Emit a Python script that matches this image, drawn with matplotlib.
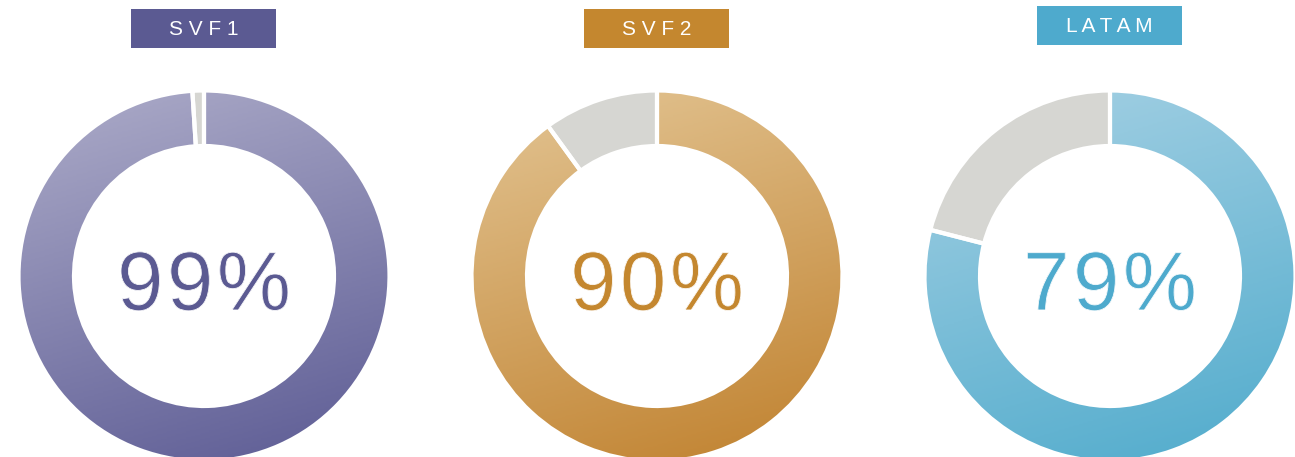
import matplotlib
matplotlib.use("Agg")
import matplotlib.pyplot as plt
import numpy as np
from matplotlib.colors import LinearSegmentedColormap
from matplotlib.patches import Rectangle
import matplotlib.patheffects as pe

# ---- data ----
names = ["SVF1", "SVF2", "LATAM"]
values = [99, 90, 79]
box_colors = ["#5b5a92", "#c4872f", "#4eaacd"]
grad_light = ["#adacc9", "#e3c594", "#a6d1e4"]
grad_dark = ["#5c5b94", "#c0812e", "#50abcc"]
rest_color = "#d6d6d2"

# ---- layout (pixels) ----
W, H = 1295, 457
centers_x = [204, 657, 1110]
center_y = H - 276
radius = 185.5
ring_w = 55.5
box_left = [131, 584, 1037]
box_top = [9, 9, 6]
box_w, box_h = 145, 39
pct_spacing = 3.5

fig = plt.figure(figsize=(W / 100, H / 100), dpi=100)
ax = fig.add_axes([0, 0, 1, 1])
ax.set_xlim(0, W)
ax.set_ylim(0, H)
renderer = fig.canvas.get_renderer()

u = np.linspace(0, 1, 256)
v = np.linspace(0, 1, 256)
grad = (0.3 * u[None, :] + v[:, None]) / 1.3


def spaced_text(cx, y, s, spacing, **kw):
    widths = []
    for k in range(len(s) + 1):
        if k == 0:
            widths.append(0.0)
            continue
        t = ax.text(0, 0, s[:k], **kw)
        widths.append(t.get_window_extent(renderer).width)
        t.remove()
    total = widths[-1] + spacing * (len(s) - 1)
    x0 = cx - total / 2
    for k, ch in enumerate(s):
        ax.text(x0 + widths[k] + k * spacing, y, ch, ha="left", va="baseline", **kw)


for i, (name, val) in enumerate(zip(names, values)):
    cx = centers_x[i]
    parts = [val, 100 - val]
    wedges, _ = ax.pie(parts, colors=["none", rest_color], startangle=90,
                       counterclock=False, center=(cx, center_y), radius=radius,
                       wedgeprops=dict(width=ring_w, linewidth=0), frame=True)
    cmap = LinearSegmentedColormap.from_list(name, [grad_light[i], grad_dark[i]])
    im = ax.imshow(grad, cmap=cmap, origin="upper", interpolation="bilinear",
                   extent=(cx - radius, cx + radius, center_y - radius, center_y + radius),
                   zorder=2)
    im.set_clip_path(wedges[0])
    ax.pie(parts, colors=["none", "none"], startangle=90, counterclock=False,
           center=(cx, center_y), radius=radius,
           wedgeprops=dict(width=ring_w, linewidth=3.0, edgecolor="white", zorder=3),
           frame=True)
    ax.set_xlim(0, W)
    ax.set_ylim(0, H)
    spaced_text(cx, H - 310, f"{val}%", pct_spacing, fontsize=60,
                family="Liberation Sans", color=box_colors[i], zorder=5,
                path_effects=[pe.Normal(), pe.Stroke(linewidth=0.6, foreground="white")])
    # label box
    ax.add_patch(Rectangle((box_left[i], H - box_top[i] - box_h), box_w, box_h,
                           facecolor=box_colors[i], edgecolor="none", zorder=4))
    ax.text(box_left[i] + box_w / 2, H - box_top[i] - box_h / 2 - 1, " ".join(name),
            ha="center", va="center", fontsize=15, family="Liberation Sans",
            color="white", zorder=5)

ax.set_xlim(0, W)
ax.set_ylim(0, H)
ax.set_aspect("equal")
ax.axis("off")
fig.savefig("out.png", dpi=100, facecolor="white")
